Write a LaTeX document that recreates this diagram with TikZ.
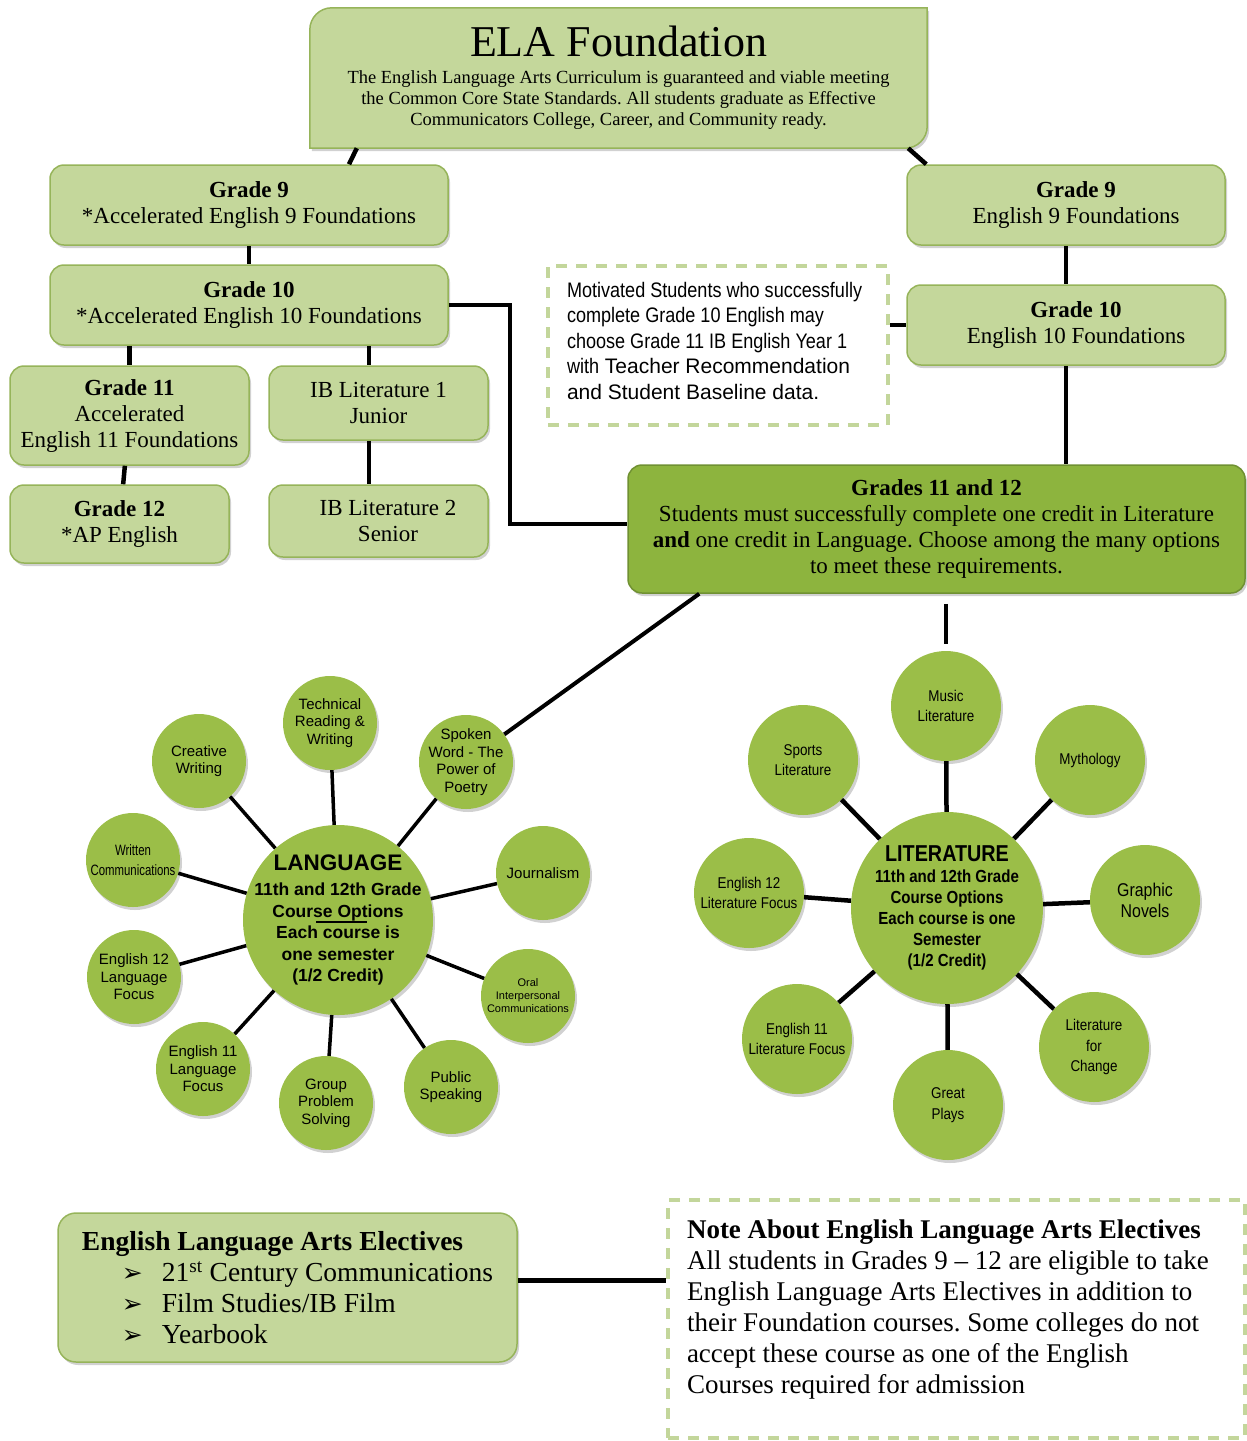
\documentclass[tikz,border=0pt]{standalone}
\usepackage{fontspec}
\setmainfont{Liberation Serif}
\setsansfont{Liberation Sans}
\newfontfamily\narrowsans[FakeStretch=0.86]{Liberation Sans}
\newfontfamily\condsans[FakeStretch=0.76]{Liberation Sans}
\newfontfamily\dingfont{DejaVu Sans}
\usetikzlibrary{positioning,calc,shadows,backgrounds}
\frenchspacing

\definecolor{boxfill}{RGB}{196,215,155}
\definecolor{boxline}{RGB}{150,180,90}
\definecolor{darkfill}{RGB}{141,180,62}
\definecolor{darkline}{RGB}{112,145,50}
\definecolor{bubble}{RGB}{155,190,72}
\definecolor{dashline}{RGB}{195,214,155}

\newcommand{\langfont}{\sffamily\fontsize{15}{17.5}\selectfont}
\newcommand{\writfont}{\condsans\fontsize{15}{19.5}\selectfont}
\newcommand{\oralfont}{\sffamily\fontsize{11}{13}\selectfont}
\newcommand{\litfont}{\narrowsans\fontsize{15.6}{20.5}\selectfont}
\newcommand{\graphfont}{\narrowsans\fontsize{18.5}{21}\selectfont}
\newcommand{\arrowbul}{\hspace*{40pt}\makebox[40pt][l]{\dingfont\fontsize{25}{26}\selectfont ➢}}

\tikzset{
  link/.style={line width=4.5pt,black},
  spoke/.style={line width=3.5pt,black},
  boxshadow/.style={drop shadow={shadow xshift=2pt,shadow yshift=-3pt,opacity=0.3,fill=black!60}},
  gbox/.style={rectangle,rounded corners=14pt,fill=boxfill,draw=boxline,line width=1.5pt,
    align=center,inner sep=4pt,font=\fontsize{23}{26}\selectfont,boxshadow},
  bigbox/.style={gbox,fill=darkfill,draw=darkline},
  elatext/.style={rectangle,align=center,inner sep=0pt,minimum width=617pt,minimum height=140pt,
    font=\fontsize{18.5}{21}\selectfont},
  elashape/.style={fill=boxfill,draw=boxline,line width=1.5pt,boxshadow},
  dashbox/.style={rectangle,draw=dashline,line width=4pt,dash pattern=on 11pt off 9pt,fill=white},
  hub/.style={circle,fill=bubble,inner sep=0pt,boxshadow},
  langsat/.style={circle,fill=bubble,minimum size=94pt,inner sep=0pt,boxshadow},
  litsat/.style={langsat,minimum size=110pt},
  sattxt/.style={align=center,inner sep=0pt},
  hubtxt/.style={align=center,inner sep=0pt,font=\sffamily\bfseries\fontsize{17.5}{21.5}\selectfont},
  littxt/.style={align=center,inner sep=0pt,font=\narrowsans\bfseries\fontsize{17.5}{21}\selectfont},
}

\begin{document}
\begin{tikzpicture}[x=1pt,y=-1pt]
\useasboundingbox (0,0) rectangle (1247,1441);

% foundation box
\node[elatext] (ela) at (618.5,78) {{\fontsize{44}{48}\selectfont ELA Foundation}\\[6pt]
  The English Language Arts Curriculum is guaranteed and viable meeting\\
  the Common Core State Standards. All students graduate as Effective\\
  Communicators College, Career, and Community ready.};
\begin{scope}[on background layer]
  \draw[elashape] (ela.south west) -- ([yshift=-22pt]ela.north west)
    arc[start angle=180,end angle=270,radius=22] -- (ela.north east)
    -- ([yshift=22pt]ela.south east) arc[start angle=0,end angle=90,radius=22] -- cycle;
\end{scope}

% accelerated track
\node[gbox,minimum width=398pt,minimum height=80pt] (g9a) at (249,205)
  {\textbf{Grade 9}\\{}*Accelerated English 9 Foundations};
\node[gbox,minimum width=398pt,minimum height=80pt] (g10a) at (249,305)
  {\textbf{Grade 10}\\{}*Accelerated English 10 Foundations};
\node[gbox,minimum width=239pt,minimum height=99pt] (g11a) at (129.5,415.5)
  {\textbf{Grade 11}\\Accelerated\\English 11 Foundations};
\node[gbox,minimum width=219pt,minimum height=74pt] (ib1) at (378.5,403)
  {IB Literature 1\\Junior};
\node[gbox,minimum width=219pt,minimum height=78pt] (g12a) at (119.5,524)
  {\textbf{Grade 12}\\{}*AP English};
\node[gbox,minimum width=219pt,minimum height=72pt] (ib2) at (378.5,521)
  {\hspace*{19pt}IB Literature 2\\\hspace*{19pt}Senior};

% standard track
\node[gbox,minimum width=318pt,minimum height=80pt] (g9b) at (1066,205)
  {\hspace*{20pt}\textbf{Grade 9}\\\hspace*{20pt}English 9 Foundations};
\node[gbox,minimum width=318pt,minimum height=80pt] (g10b) at (1066,325)
  {\hspace*{20pt}\textbf{Grade 10}\\\hspace*{20pt}English 10 Foundations};
\node[dashbox,inner xsep=19pt,inner ysep=16pt] (motiv) at (718,345.5)
  {\parbox[c][127pt][t]{302pt}{\raggedright\sffamily\fontsize{21}{25.5}\selectfont
   {\narrowsans Motivated Students who successfully}\\
   {\narrowsans complete Grade 10 English may}\\
   {\narrowsans choose Grade 11 IB English Year 1}\\
   {\narrowsans with} Teacher Recommendation\\
   and Student Baseline data.}};
\node[bigbox,minimum width=617pt,minimum height=128pt] (g1112) at (936.5,529)
  {\textbf{Grades 11 and 12}\\
   Students must successfully complete one credit in Literature\\
   \textbf{and} one credit in Language. Choose among the many options\\
   to meet these requirements.};

% tree connectors
\draw[link] ([xshift=47pt]ela.south west) -- ([xshift=100pt]g9a.north);
\draw[link] ([xshift=-19pt]ela.south east) -- ([xshift=20pt]g9b.north west);
\draw[link] (g9a) -- (g10a);
\draw[link] (g10a.south -| g11a.north) -- (g11a.north);
\draw[link] ([xshift=-9.5pt]ib1.north |- g10a.south) -- ([xshift=-9.5pt]ib1.north);
\draw[link] (g11a) -- (g12a);
\draw[link] ([xshift=-9.5pt]ib1.south) -- ([xshift=-9.5pt]ib2.north);
\draw[link] (g10a.east) -- ++(61,0) |- ([yshift=5pt]g1112.west);
\draw[link] (g9b) -- (g10b);
\draw[link] (g10b.west -| motiv.east) -- (g10b.west);
\draw[link] (g10b.south) -- (g10b.south |- g1112.north);

% language web
\node[hub,minimum size=190pt,label={[hubtxt]center:{{\fontsize{22.5}{26}\selectfont LANGUAGE}\\[4pt]11th and 12th Grade\\Course Options\\Each course is\\one semester\\(1/2 Credit)}}] (lang) at (338,920) {};
\draw[line width=1.3pt] ($(lang)+(-22,2)$) -- ($(lang)+(29,2)$);
\foreach \nm/\cx/\cy/\fnt/\txt in {
  tech/330/723/\langfont/{Technical\\Reading \&\\Writing},
  creative/199/761/\langfont/{Creative\\Writing},
  spoken/466/762/\langfont/{Spoken\\Word - The\\Power of\\Poetry},
  written/133/860/\writfont/{Written\\Communications},
  journ/543/873/\langfont/{Journalism},
  englang12/134/977/\langfont/{English 12\\Language\\Focus},
  oral/528/996/\oralfont/{Oral\\Interpersonal\\Communications},
  englang11/203/1069/\langfont/{English 11\\Language\\Focus},
  group/326/1103/\langfont/{Group\\Problem\\Solving},
  public/451/1087/\langfont/{Public\\Speaking}}{
  \node[langsat,label={[sattxt,font=\fnt]center:{\txt}}] (\nm) at (\cx,\cy) {};
  \draw[spoke] (lang) -- (\nm);
}
\draw[link,line width=4pt] ([xshift=72pt]g1112.south west) -- (spoken);

% literature web
\node[hub,minimum size=192pt,label={[littxt]center:{{\fontsize{23}{26}\selectfont LITERATURE}\\11th and 12th Grade\\Course Options\\Each course is one\\Semester\\(1/2 Credit)}}] (lit) at (947,908) {};
\draw[link] ([xshift=9.5pt,yshift=-10pt]g1112.south) -- ++(0,40);
\foreach \nm/\cx/\cy/\fnt/\txt in {
  music/946/706/\litfont/{Music\\Literature},
  sports/803/760/\litfont/{Sports\\Literature},
  myth/1090/760/\litfont/{Mythology},
  englit12/749/893/\litfont/{English 12\\Literature Focus},
  graphic/1145/900/\graphfont/{Graphic\\Novels},
  englit11/797/1039/\litfont/{English 11\\Literature Focus},
  change/1094/1047/\litfont/{Literature\\for\\Change},
  plays/948/1105/\litfont/{Great\\Plays}}{
  \node[litsat,label={[sattxt,font=\fnt]center:{\txt}}] (\nm) at (\cx,\cy) {};
  \draw[link] (lit) -- (\nm);
}

% electives
\node[gbox,rounded corners=18pt,minimum width=459pt,minimum height=149pt,align=left,
  font=\fontsize{27.5}{31}\selectfont] (elect) at (287.5,1287.5)
  {\textbf{English Language Arts Electives}\\
   \arrowbul 21\textsuperscript{st} Century Communications\\
   \arrowbul Film Studies/IB Film\\
   \arrowbul Yearbook};
\node[dashbox,inner xsep=19pt,inner ysep=20pt] (note) at (956.5,1319)
  {\parbox[c][198pt][t]{539pt}{\raggedright\fontsize{27}{31}\selectfont
   \textbf{Note About English Language Arts Electives}\\
   All students in Grades 9 – 12 are eligible to take\\
   English Language Arts Electives in addition to\\
   their Foundation courses. Some colleges do not\\
   accept these course as one of the English\\
   Courses required for admission}};
\draw[link] ([yshift=7pt]elect.east) -- ([yshift=7pt]elect.east -| note.west);
\end{tikzpicture}
\end{document}
